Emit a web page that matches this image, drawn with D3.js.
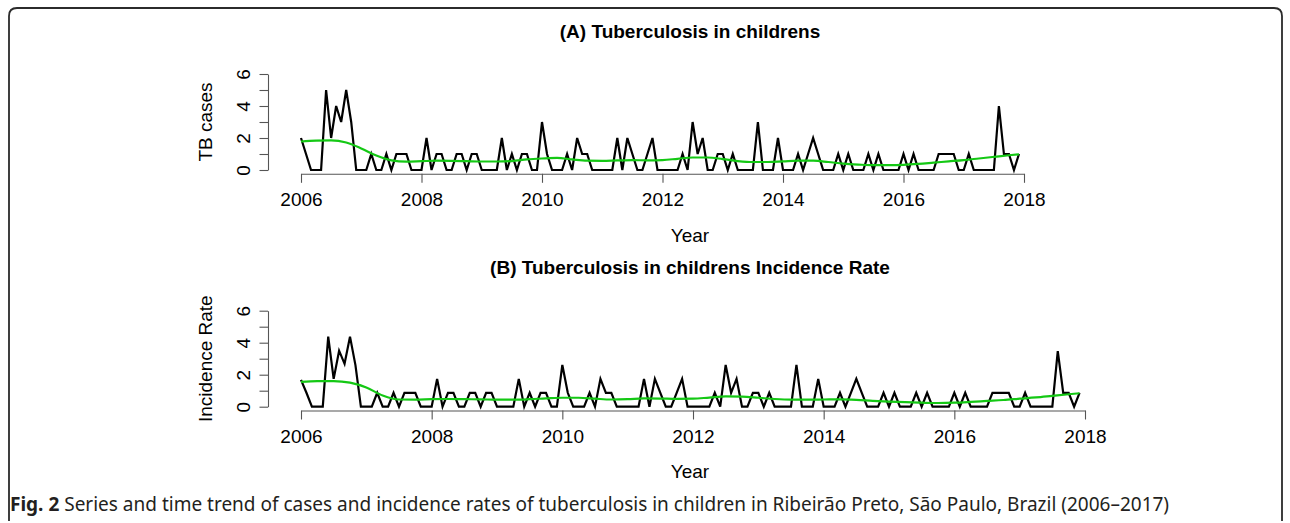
<!DOCTYPE html>
<meta charset="utf-8">
<head>
    <script type="text/javascript" src="https://cdn.jsdelivr.net/npm/d3@7"></script>
    <style>
        body { margin: 0; background: #fff; }
        text { font-family: "Liberation Sans", Arial, sans-serif; fill: #000; }
        text.caption { font-family: "Noto Sans", "Open Sans", sans-serif; }
    </style>
</head>
<body>
<div id="chart"></div>
<script>
    // monthly series, Jan 2006 .. Dec 2017 (one row per year)
    var years = [2006, 2007, 2008, 2009, 2010, 2011, 2012, 2013, 2014, 2015, 2016, 2017];
    var casesA = [
        [2, 1, 0, 0, 0, 5, 2, 4, 3, 5, 3, 0],
        [0, 0, 1, 0, 0, 1, 0, 1, 1, 1, 0, 0],
        [0, 2, 0, 1, 1, 0, 0, 1, 1, 0, 1, 1],
        [0, 0, 0, 0, 2, 0, 1, 0, 1, 1, 0, 0],
        [3, 1, 0, 0, 0, 1, 0, 2, 1, 1, 0, 0],
        [0, 0, 0, 2, 0, 2, 1, 0, 0, 1, 2, 0],
        [0, 0, 0, 0, 1, 0, 3, 1, 2, 0, 0, 1],
        [1, 0, 1, 0, 0, 0, 0, 3, 0, 0, 0, 2],
        [0, 0, 0, 1, 0, 1, 2, 1, 0, 0, 0, 1],
        [0, 1, 0, 0, 0, 1, 0, 1, 0, 0, 0, 0],
        [1, 0, 1, 0, 0, 0, 0, 1, 1, 1, 1, 0],
        [0, 1, 0, 0, 0, 0, 0, 4, 1, 1, 0, 1]
    ];
    var rateB = [
        [1.68, 0.87, 0, 0, 0, 4.38, 1.74, 3.5, 2.68, 4.38, 2.6, 0],
        [0, 0, 0.87, 0, 0, 0.87, 0, 0.87, 0.87, 0.87, 0, 0],
        [0, 1.74, 0, 0.87, 0.87, 0, 0, 0.87, 0.87, 0, 0.87, 0.87],
        [0, 0, 0, 0, 1.74, 0, 0.87, 0, 0.87, 0.87, 0, 0],
        [2.61, 0.87, 0, 0, 0, 0.87, 0, 1.74, 0.87, 0.87, 0, 0],
        [0, 0, 0, 1.74, 0, 1.74, 0.87, 0, 0, 0.87, 1.74, 0],
        [0, 0, 0, 0, 0.87, 0, 2.61, 0.87, 1.74, 0, 0, 0.87],
        [0.87, 0, 0.87, 0, 0, 0, 0, 2.61, 0, 0, 0, 1.74],
        [0, 0, 0, 0.87, 0, 0.87, 1.74, 0.87, 0, 0, 0, 0.87],
        [0, 0.87, 0, 0, 0, 0.87, 0, 0.87, 0, 0, 0, 0],
        [0.87, 0, 0.87, 0, 0, 0, 0, 0.87, 0.87, 0.87, 0.87, 0],
        [0, 0.87, 0, 0, 0, 0, 0, 3.48, 0.87, 0.87, 0, 0.87]
    ];
    // trend (green) read every 3 months, month index from Jan 2006
    var trendMonths = [0, 3, 6, 9, 12, 15, 18, 21, 24, 27, 30, 33, 36, 39, 42, 45, 48, 51, 54, 57, 60, 63, 66, 69,
        72, 75, 78, 81, 84, 87, 90, 93, 96, 99, 102, 105, 108, 111, 114, 117, 120, 123, 126, 129, 132, 135, 138, 141, 143];
    var trendA = [1.78, 1.84, 1.85, 1.72, 1.35, 0.9, 0.6, 0.52, 0.55, 0.58, 0.57, 0.55, 0.53, 0.53, 0.56, 0.66, 0.72, 0.76,
        0.66, 0.58, 0.57, 0.6, 0.62, 0.6, 0.62, 0.7, 0.78, 0.78, 0.68, 0.56, 0.5, 0.5, 0.54, 0.58, 0.58, 0.5, 0.4, 0.34,
        0.3, 0.3, 0.32, 0.38, 0.46, 0.54, 0.62, 0.72, 0.82, 0.92, 0.98];
    var trendB = [1.55, 1.6, 1.6, 1.5, 1.2, 0.7, 0.45, 0.44, 0.47, 0.48, 0.47, 0.46, 0.44, 0.44, 0.47, 0.52, 0.56, 0.56,
        0.5, 0.45, 0.47, 0.52, 0.51, 0.49, 0.5, 0.57, 0.64, 0.63, 0.56, 0.48, 0.44, 0.44, 0.45, 0.46, 0.43, 0.37, 0.32,
        0.28, 0.25, 0.23, 0.25, 0.3, 0.36, 0.42, 0.5, 0.58, 0.68, 0.78, 0.84];
    var xTicks = [2006, 2008, 2010, 2012, 2014, 2016, 2018];
    var yTicks = [0, 1, 2, 3, 4, 5, 6];

    var w = 1290, h = 523;
    var svg = d3.select("#chart").append("svg").attr("width", w).attr("height", h);

    // frame
    svg.append("path")
        .attr("d", "M9,521 L9,16 Q9,8 17,8 L1274,8 Q1282,8 1282,16 L1282,521")
        .attr("fill", "none").attr("stroke", "#2b2b2b").attr("stroke-width", 1.8);

    function toPoints(rows) {
        var pts = [];
        rows.forEach(function (r, yi) {
            r.forEach(function (v, m) { pts.push({t: years[yi] + m / 12, v: v}); });
        });
        return pts;
    }

    function panel(cfg) {
        var x = d3.scaleLinear().domain([2006, 2018]).range([301, cfg.x2018]);
        var y = d3.scaleLinear().domain([0, 6]).range([cfg.y0, cfg.y0 - 96]);
        var g = svg.append("g");

        var ax = g.append("g").attr("transform", "translate(0," + (cfg.y0 + 3.8) + ")")
            .call(d3.axisBottom(x).tickValues(xTicks).tickSize(9).tickSizeOuter(0).tickFormat(d3.format("d")));
        ax.selectAll("text").attr("y", 26).attr("dy", null).attr("dominant-baseline", "central")
            .style("font-size", "19px").style("font-family", "Liberation Sans, Arial");

        var ay = g.append("g").attr("transform", "translate(268,0)")
            .call(d3.axisLeft(y).tickValues(yTicks).tickSize(8.5).tickSizeOuter(0)
                .tickFormat(function (d) { return d % 2 === 0 ? d : ""; }));
        ay.selectAll("text").attr("x", null).attr("dy", null)
            .attr("transform", "translate(-25,0) rotate(-90)")
            .attr("text-anchor", "middle").attr("dominant-baseline", "central")
            .style("font-size", "19px").style("font-family", "Liberation Sans, Arial");
        g.selectAll(".domain, .tick line").attr("stroke", "#555").attr("stroke-width", 1.1);

        g.append("text").attr("x", 690).attr("y", cfg.y0 - 139).attr("text-anchor", "middle")
            .attr("dominant-baseline", "central").style("font-weight", "bold").style("font-size", "19px")
            .text(cfg.title);
        g.append("text").attr("x", 690).attr("y", cfg.y0 + 65).attr("text-anchor", "middle")
            .attr("dominant-baseline", "central").style("font-size", "19px").text("Year");
        g.append("text").attr("transform", "translate(205," + (cfg.y0 - 48) + ") rotate(-90)")
            .attr("text-anchor", "middle").attr("dominant-baseline", "central")
            .style("font-size", "19px").text(cfg.ylab);

        var line = d3.line().x(function (d) { return x(d.t); }).y(function (d) { return y(d.v); });
        g.append("path").datum(toPoints(cfg.series)).attr("d", line)
            .attr("fill", "none").attr("stroke", "#000").attr("stroke-width", 2.2).attr("stroke-linejoin", "miter");

        var trendPts = cfg.trend.map(function (v, i) { return {t: 2006 + trendMonths[i] / 12, v: v}; });
        g.append("path").datum(trendPts).attr("d", line.curve(d3.curveMonotoneX))
            .attr("fill", "none").attr("stroke", "#14c814").attr("stroke-width", 2.2);
    }

    panel({series: casesA, trend: trendA, y0: 170, x2018: 1024,
        title: "(A) Tuberculosis in childrens", ylab: "TB cases"});
    panel({series: rateB, trend: trendB, y0: 406.7, x2018: 1085,
        title: "(B) Tuberculosis in childrens Incidence Rate", ylab: "Incidence Rate"});

    // caption: size it so "... tuberculosis in chi" ends near x = 700 as in the figure
    var capHead = "Fig. 2";
    var capBody = " Series and time trend of cases and incidence rates of tuberculosis in children in Ribeirão Preto, São Paulo, Brazil (2006–2017)";
    var cap = svg.append("text").attr("class", "caption").attr("x", 10).attr("y", 511)
        .style("font-size", "17px").style("fill", "#231f20");
    cap.append("tspan").style("font-weight", "bold").text(capHead);
    var body = cap.append("tspan").text(capBody);
    var headW = cap.select("tspan").node().getComputedTextLength();
    var prefixW = headW + body.node().getSubStringLength(0, capBody.indexOf("children") + 3);
    var fs = 17 * 690 / prefixW;
    cap.style("font-size", fs.toFixed(2) + "px");
</script>
</body>
